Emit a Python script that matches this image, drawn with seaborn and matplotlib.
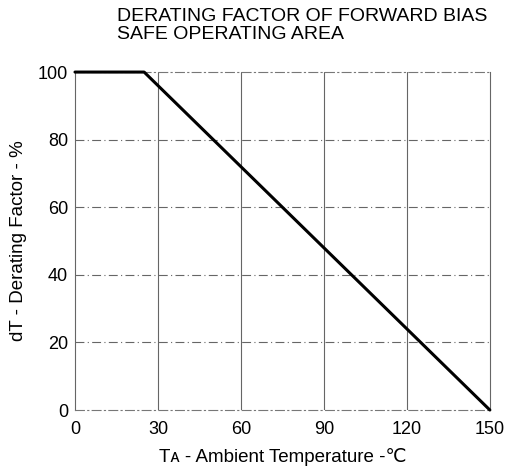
import numpy as np
import pandas as pd
import matplotlib
matplotlib.use("Agg")
import matplotlib.pyplot as plt
import seaborn as sns

# data
temp_c = [0, 25, 150]
derating_pct = [100, 100, 0]
x_ticks = [0, 30, 60, 90, 120, 150]
y_ticks = [0, 20, 40, 60, 80, 100]

df = pd.DataFrame({"temp": temp_c, "derate": derating_pct})

sns.set_style("white")
plt.rcParams["font.family"] = ["Liberation Sans", "DejaVu Sans"]
plt.rcParams["text.color"] = "black"
plt.rcParams["axes.labelcolor"] = "black"

fig = plt.figure(figsize=(5.05, 4.71), dpi=100)
ax = fig.add_axes([0.1485, 0.1295, 0.8215, 0.7175])

sns.lineplot(data=df, x="temp", y="derate", color="black", linewidth=2.2,
             ax=ax, clip_on=False, zorder=5)

ax.set_xlim(0, 150)
ax.set_ylim(0, 100)
ax.set_xticks(x_ticks)
ax.set_yticks(y_ticks)
ax.tick_params(length=0, labelsize=13, colors="black")
ax.tick_params(axis="x", pad=8)
ax.tick_params(axis="y", pad=5)

# grid: solid verticals, broken horizontals
for xv in x_ticks[1:-1]:
    ax.axvline(xv, color="#666666", lw=0.8, zorder=0)
for yv in y_ticks[1:-1]:
    ax.axhline(yv, color="#666666", lw=0.8, ls=(0, (8, 3, 1, 3)), zorder=0)

for side in ["top", "bottom"]:
    ax.spines[side].set_color("#777777")
    ax.spines[side].set_linewidth(0.8)
    ax.spines[side].set_linestyle((0, (8, 3, 1, 3)))
for side in ["left", "right"]:
    ax.spines[side].set_color("#666666")
    ax.spines[side].set_linewidth(0.8)

ax.set_xlabel("Tᴀ - Ambient Temperature -℃", fontsize=13.5, labelpad=7)
ax.set_ylabel("dT - Derating Factor - %", fontsize=13.5, labelpad=8)

fig.text(0.232, 0.982, "DERATING FACTOR OF FORWARD BIAS\nSAFE OPERATING AREA",
         fontsize=14, ha="left", va="top", linespacing=1.05, color="black")

fig.savefig("out.png", dpi=100)
